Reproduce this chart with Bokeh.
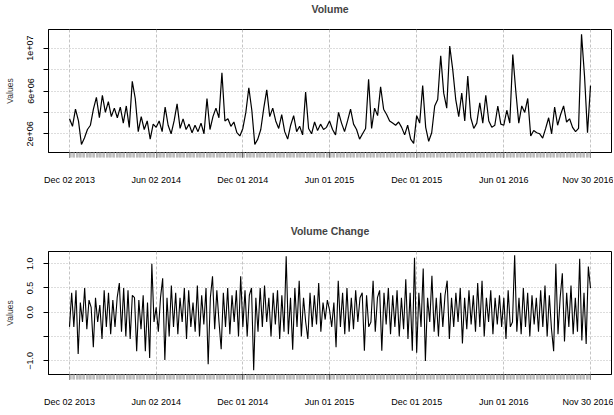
import pandas as pd
from bokeh.plotting import figure
from bokeh.models import Range1d, FixedTicker, ColumnDataSource, Title
from bokeh.layouts import column
from bokeh.embed import file_html
from bokeh.resources import INLINE

# ---- axis dates / labels ----
seg_bounds = ["2013-12-02", "2014-06-02", "2014-12-01", "2015-06-01",
              "2015-12-01", "2016-06-01", "2016-11-30"]
tick_labels = ["Dec 02 2013", "Jun 02 2014", "Dec 01 2014", "Jun 01 2015",
               "Dec 01 2015", "Jun 01 2016", "Nov 30 2016"]

# ---- Volume (millions), one list per half-year, evenly spaced in time ----
vol_seg1 = [3.4, 2.7, 4.3, 3.2, 1.0, 1.6, 2.4, 2.8, 4.3, 5.4, 3.5, 5.6, 4.0, 5.0, 3.6,
            4.4, 3.5, 4.5, 3.0, 4.6, 2.6, 6.9, 5.3, 2.2, 3.6, 2.4, 3.2, 1.5, 2.9]
vol_seg2 = [2.6, 3.2, 2.2, 4.5, 2.8, 2.0, 3.2, 4.8, 2.5, 3.4, 2.4, 2.9, 2.1, 2.8, 2.2,
            3.0, 2.0, 5.3, 2.4, 3.6, 4.4, 3.5, 7.7, 3.2, 3.4, 2.7, 3.1, 2.1, 1.8]
vol_seg3 = [2.5, 4.0, 6.3, 4.2, 1.0, 1.5, 2.4, 4.4, 6.1, 3.6, 4.4, 3.2, 2.5, 3.8, 2.2,
            1.5, 2.8, 3.7, 2.2, 2.7, 1.9, 5.9, 2.5, 2.0, 3.1, 2.3, 2.9, 2.4, 2.6]
vol_seg4 = [3.2, 2.4, 1.9, 4.0, 3.0, 2.2, 3.2, 4.3, 2.9, 2.4, 1.5, 2.0, 2.5, 7.1, 2.5,
            4.4, 3.7, 6.4, 4.3, 3.8, 3.2, 3.0, 2.8, 3.1, 2.6, 1.9, 2.8, 1.5, 1.1]
vol_seg5 = [3.7, 3.0, 6.5, 2.6, 1.3, 2.1, 4.6, 5.2, 9.3, 5.8, 4.4, 10.2, 8.0, 5.2, 3.6,
            5.8, 3.2, 7.4, 3.5, 2.5, 3.0, 4.9, 3.0, 5.6, 3.2, 2.6, 2.8, 4.6, 2.9]
vol_seg6 = [2.8, 4.2, 3.0, 9.4, 6.0, 3.0, 4.6, 4.0, 5.3, 1.8, 2.3, 2.1, 2.0, 1.6, 2.5,
            3.5, 2.0, 4.5, 2.8, 3.8, 4.6, 3.1, 3.4, 2.6, 2.2, 2.5, 11.3, 7.4, 2.1, 6.5]

# ---- Volume change, one list per half-year ----
chg_seg1 = [-0.3, 0.4, -0.3, 0.45, -0.86, 0.2, -0.2, 0.5, -0.35, 0.25, 0.1, -0.72, 0.3, -0.2,
            0.15, -0.55, 0.45, -0.3, 0.4, -0.45, 0.25, -0.3, 0.3, 0.6, -0.4, 0.5, -0.5, 0.45,
            -0.55, 0.35, 0.3, -0.8, 0.25, -0.35, 0.35, -0.8, 0.2, -0.94, 1.0, -0.2]
chg_seg2 = [0.1, -0.4, 0.3, 0.7, -0.98, 0.3, -0.5, 0.55, -0.3, 0.4, -0.45, 0.3, -0.2, 0.5,
            -0.55, 0.45, -0.3, 0.2, -0.4, 0.55, -0.5, 0.35, -0.25, 0.5, -1.07, 0.3, 0.74, -0.35,
            0.45, -0.2, -0.76, 0.4, -0.3, 0.5, -0.45, 0.35, -0.2, 0.45, -0.5, 0.74]
chg_seg3 = [-0.3, 0.45, -0.5, 0.35, 0.5, -1.19, 0.3, -0.4, 0.5, -0.3, 0.55, -0.2, 0.3, -0.5,
            0.4, -0.25, 0.45, -0.55, 0.35, -0.4, 1.15, -0.45, 0.3, -0.77, 0.5, -0.3, 0.65, -0.5,
            0.3, -0.2, -0.55, 0.4, -0.3, 0.35, -0.25, 0.6, -0.4, 0.2, -0.15, 0.25]
chg_seg4 = [0.05, -0.3, 0.2, -0.72, 0.65, -0.3, 0.4, -0.45, 0.5, -0.4, 0.3, -0.35, 0.45, -0.2,
            0.3, 0.4, -0.79, 0.35, -0.3, -0.2, 0.65, -0.4, 0.3, 0.45, -0.79, 0.4, -0.25, 0.5,
            -0.45, 0.35, -0.3, 0.45, -0.5, 0.3, -0.35, 0.68, -0.55, 0.4, -0.79, 1.12]
chg_seg5 = [-0.83, 0.4, -0.3, 0.9, -1.0, 0.3, -0.2, 0.75, -0.4, 0.3, -0.5, 0.4, -0.3, 0.35,
            0.65, -0.55, 0.3, -0.3, 0.4, -0.2, 0.5, -0.64, 0.3, -0.35, 0.45, -0.25, 0.35, -0.4,
            0.6, -0.3, 0.65, -0.5, 0.3, -0.2, 0.45, -0.45, 0.3, -0.25, 0.35, -0.3]
chg_seg6 = [0.3, -0.55, 0.45, -0.3, -0.2, 1.17, -0.4, 0.3, -0.45, 0.5, -0.3, 0.4, -0.5, 0.35,
            -0.25, 0.3, -0.4, 0.45, -0.3, 0.55, -0.5, 0.35, -0.35, -0.8, 1.0, -0.45, 0.3, 0.8,
            -0.6, 0.4, -0.3, 0.55, -0.45, 0.3, -0.4, 1.1, -0.58, 0.4, -0.65, 0.94, 0.5]

vol_ticks = [2e6, 4e6, 6e6, 8e6, 1e7]
vol_tick_labels = ["2e+06", "", "6e+06", "", "1e+07"]
chg_ticks = [-1.0, -0.5, 0.0, 0.5, 1.0]
chg_tick_labels = ["\u22121.0", "", "0.0", "0.5", "1.0"]

# ---- build x (days since first date) ----
t0 = pd.Timestamp(seg_bounds[0])
bound_days = [(pd.Timestamp(s) - t0).days for s in seg_bounds]


def build(segs):
    xs, ys = [], []
    for k, seg in enumerate(segs):
        last = (k == len(segs) - 1)
        a, b = bound_days[k], bound_days[k + 1]
        n = len(seg)
        step = (b - a) / (n - 1 if last else n)
        xs += [a + i * step for i in range(n)]
        ys += seg
    return xs, ys


vx, vy = build([vol_seg1, vol_seg2, vol_seg3, vol_seg4, vol_seg5, vol_seg6])
vy = [v * 1e6 for v in vy]
cx, cy = build([chg_seg1, chg_seg2, chg_seg3, chg_seg4, chg_seg5, chg_seg6])

minor_days = [(d - t0).days for d in pd.bdate_range(seg_bounds[0], seg_bounds[-1])]
span = bound_days[-1]
pad = 44.1

FONT = "Liberation Sans"


def make_fig(title, xs, ys, yr, yticks, ylabels, height, top, bottom, lw):
    p = figure(width=613, height=height, output_backend="svg", toolbar_location=None,
               x_range=Range1d(-pad, span + pad), y_range=Range1d(*yr),
               min_border_left=48, min_border_right=2, min_border_top=top,
               min_border_bottom=bottom, title=title)
    # invisible spacer between the frame and the title
    p.add_layout(Title(text=" ", text_font_size="2px", standoff=8), "above")
    p.title.align = "center"
    p.title.vertical_align = "top"
    p.title.text_font = FONT
    p.title.text_font_size = "10.5px"
    p.title.text_font_style = "bold"
    p.title.standoff = 2
    p.outline_line_color = "black"
    p.outline_line_width = 1
    p.background_fill_color = "white"
    p.border_fill_color = "white"

    p.line(x="x", y="y", source=ColumnDataSource(dict(x=xs, y=ys)),
           line_color="black", line_width=lw)

    xa = p.xaxis[0]
    xa.ticker = FixedTicker(ticks=bound_days, minor_ticks=minor_days)
    xa.major_label_overrides = {d: l for d, l in zip(bound_days, tick_labels)}
    xa.major_tick_out = 5
    xa.major_tick_in = 0
    xa.minor_tick_out = 5
    xa.minor_tick_in = 0
    xa.minor_tick_line_color = "#b0b0b0"
    xa.minor_tick_line_width = 0.6
    xa.major_tick_line_color = "black"
    xa.axis_line_color = "black"
    xa.major_label_standoff = 17
    xa.major_label_text_font = FONT
    xa.major_label_text_font_size = "9px"
    xa.major_label_text_color = "black"

    ya = p.yaxis[0]
    ya.ticker = FixedTicker(ticks=yticks)
    ya.major_label_overrides = {t: l for t, l in zip(yticks, ylabels)}
    ya.major_label_orientation = "vertical"
    ya.major_tick_out = 5
    ya.major_tick_in = 0
    ya.minor_tick_line_color = None
    ya.axis_line_color = "black"
    ya.major_label_standoff = 10
    ya.major_label_text_font = FONT
    ya.major_label_text_font_size = "9px"
    ya.major_label_text_color = "black"
    ya.axis_label = "Values"
    ya.axis_label_text_font = FONT
    ya.axis_label_text_font_size = "8.5px"
    ya.axis_label_text_font_style = "normal"
    ya.axis_label_text_color = "#333333"
    ya.axis_label_standoff = 10

    p.xgrid.ticker = FixedTicker(ticks=bound_days)
    p.ygrid.ticker = FixedTicker(ticks=yticks)
    p.xgrid.grid_line_color = "#c4c4c4"
    p.xgrid.grid_line_dash = "3 2"
    p.ygrid.grid_line_color = "#bbbbbb"
    p.ygrid.grid_line_dash = "1 2"
    return p


p1 = make_fig("Volume", vx, vy, (0.25e6, 11.75e6), vol_ticks, vol_tick_labels,
              222, 29, 70, 1.2)
p2 = make_fig("Volume Change", cx, cy, (-1.28, 1.25), chg_ticks, chg_tick_labels,
              191, 29, 39, 1.1)

layout = column(p1, p2)
open("out.html", "w").write(file_html(layout, INLINE))
